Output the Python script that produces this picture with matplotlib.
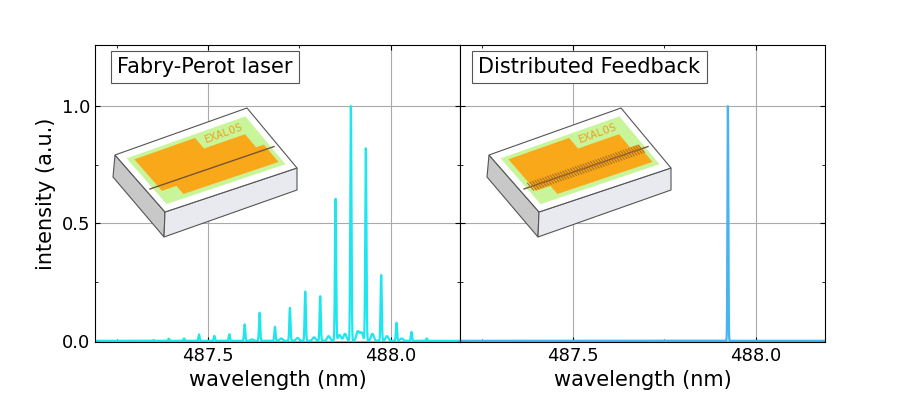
import numpy as np
import matplotlib
matplotlib.use("Agg")
import matplotlib.pyplot as plt
from matplotlib.patches import Polygon

# data
fp_wl = [487.351, 487.392, 487.434, 487.475, 487.517, 487.558, 487.600, 487.641, 487.683,
         487.724, 487.766, 487.807, 487.849, 487.891, 487.932, 487.974, 488.016, 488.057, 488.099]
fp_int = [0.003, 0.009, 0.010, 0.027, 0.021, 0.028, 0.07, 0.12, 0.06,
          0.14, 0.21, 0.19, 0.605, 1.0, 0.82, 0.28, 0.077, 0.038, 0.01]
bg_wl = [487.62, 487.70, 487.745, 487.79, 487.83, 487.86, 487.875, 487.91, 487.92, 487.95, 487.99, 488.03]
bg_int = [0.006, 0.01, 0.012, 0.015, 0.02, 0.025, 0.03, 0.04, 0.035, 0.03, 0.02, 0.01]
dfb_wl = [487.924]
dfb_int = [1.0]

x = np.linspace(487.19, 488.19, 6000)
def spec(wl, amp, w):
    y = np.zeros_like(x)
    for c, a in zip(wl, amp):
        y += a * np.exp(-0.5 * ((x - c) / w) ** 2)
    return y
y_fp = spec(fp_wl, fp_int, 0.0016) + spec(bg_wl, bg_int, 0.004)
y_dfb = spec(dfb_wl, dfb_int, 0.0012)

fig = plt.figure(figsize=(9, 4.11), dpi=100)
W, H = 900, 411
ax1 = fig.add_axes([95 / W, 1 - 342 / H, 365 / W, 297 / H])
ax2 = fig.add_axes([460 / W, 1 - 342 / H, 365 / W, 297 / H])

for ax, y, col, title, tx in [(ax1, y_fp, "#1ee6ee", "Fabry-Perot laser", 0.06),
                              (ax2, y_dfb, "#45b4f0", "Distributed Feedback", 0.05)]:
    ax.plot(x, y, color=col, lw=1.6)
    ax.set_xlim(487.19, 488.19)
    ax.set_ylim(-0.005, 1.26)
    ax.set_xticks([487.5, 488.0])
    ax.set_xticks([487.25, 487.75], minor=True)
    ax.set_yticks([0.0, 0.5, 1.0])
    ax.set_yticks([0.25, 0.75], minor=True)
    ax.grid(True, which="major", color="#aaaaaa", lw=0.8)
    ax.tick_params(which="both", direction="in", top=True, right=True, labelsize=13)
    ax.set_xticklabels(["487.5", "488.0"])
    ax.set_xlabel("wavelength (nm)", fontsize=15)
    ax.text(tx, 0.905, title, transform=ax.transAxes, fontsize=15,
            bbox=dict(boxstyle="square,pad=0.3", fc="white", ec="#555555", lw=0.8))
ax1.set_yticklabels(["0.0", "0.5", "1.0"])
ax1.set_ylabel("intensity (a.u.)", fontsize=15)
ax2.set_yticklabels([])

def P(pts):
    return [(px / W, 1 - py / H) for px, py in pts]

def line(p1, p2, **kw):
    fig.add_artist(plt.Line2D([p1[0] / W, p2[0] / W], [1 - p1[1] / H, 1 - p2[1] / H], **kw))

def chip(dx, grating):
    top = [(115, 155), (247, 108), (297, 168), (165, 212)]
    side = [(115, 155), (165, 212), (164, 237), (113, 177)]
    front = [(165, 212), (297, 168), (297, 190), (164, 237)]
    sh = lambda pts: [(a + dx, b) for a, b in pts]
    fig.add_artist(Polygon(P(sh(side)), closed=True, fc="#c8c8c8", ec="#555555", lw=0.8))
    fig.add_artist(Polygon(P(sh(front)), closed=True, fc="#e8eaf0", ec="#555555", lw=0.8))
    fig.add_artist(Polygon(P(sh(top)), closed=True, fc="white", ec="#555555", lw=0.8))
    tl, tr, br, bl = [np.array(p, float) for p in sh(top)]
    def pt(u, v):
        a = tl + (tr - tl) * u
        b = bl + (br - bl) * u
        return tuple(a + (b - a) * v)
    green = [pt(0.05, 0.10), pt(0.95, 0.10), pt(0.95, 0.90), pt(0.05, 0.90)]
    fig.add_artist(Polygon(P(green), closed=True, fc="#c8f59a", ec="none"))
    orange = [pt(0.08, 0.16), pt(0.62, 0.16), pt(0.62, 0.38), pt(0.92, 0.38),
              pt(0.92, 0.82), pt(0.08, 0.82)]
    orange = [pt(0.09, 0.15), pt(0.55, 0.15), pt(0.55, 0.33), pt(0.86, 0.33),
              pt(0.86, 0.55), pt(0.92, 0.55), pt(0.92, 0.84), pt(0.20, 0.84),
              pt(0.20, 0.70), pt(0.09, 0.70)]
    fig.add_artist(Polygon(P(orange), closed=True, fc="#f9a81a", ec="none"))
    fig.text(*P([pt(0.74, 0.22)])[0], "EXALOS", fontsize=8, color="#f0a020",
             rotation=20, ha="center", va="center", family="DejaVu Sans Mono")
    a, b = pt(0.03, 0.62), pt(0.97, 0.62)
    line(a, b, color="#775533", lw=1.0)
    if grating:
        for t in np.linspace(0.08, 0.92, 45):
            line(pt(t, 0.56), pt(t, 0.68), color="#b07020", lw=0.8)

chip(0, False)
chip(374, True)

fig.savefig("out.png", dpi=100)
